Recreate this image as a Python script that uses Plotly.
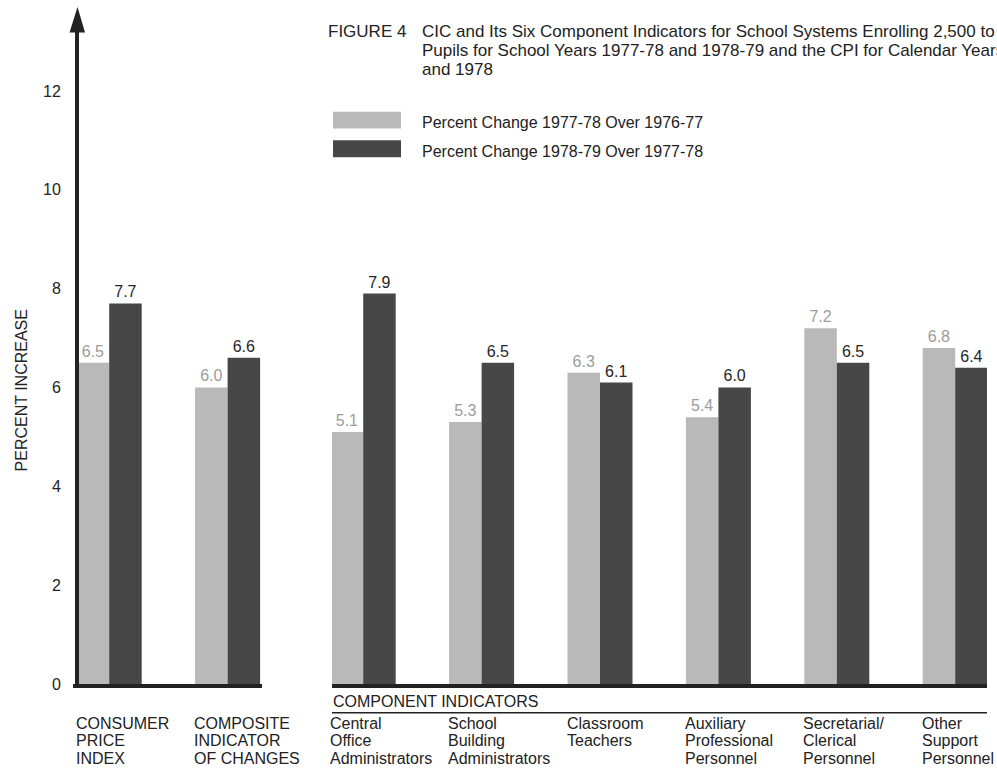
import plotly.graph_objects as go

# ---- data -------------------------------------------------------------
summary_cats = ["CPI", "CIC"]
summary_labels = [["CONSUMER", "PRICE", "INDEX"],
                  ["COMPOSITE", "INDICATOR", "OF CHANGES"]]
summary_7778 = [6.5, 6.0]
summary_7879 = [7.7, 6.6]

component_cats = ["Central Office Administrators", "School Building Administrators",
                  "Classroom Teachers", "Auxiliary Professional Personnel",
                  "Secretarial/Clerical Personnel", "Other Support Personnel"]
component_labels = [["Central", "Office", "Administrators"],
                    ["School", "Building", "Administrators"],
                    ["Classroom", "Teachers"],
                    ["Auxiliary", "Professional", "Personnel"],
                    ["Secretarial/", "Clerical", "Personnel"],
                    ["Other", "Support", "Personnel"]]
component_7778 = [5.1, 5.3, 6.3, 5.4, 7.2, 6.8]
component_7879 = [7.9, 6.5, 6.1, 6.0, 6.5, 6.4]

series_names = ["Percent Change 1977-78 Over 1976-77",
                "Percent Change 1978-79 Over 1977-78"]
y_ticks = [0, 2, 4, 6, 8, 10, 12]

title_tag = "FIGURE 4"
title_lines = ["CIC and Its Six Component Indicators for School Systems Enrolling 2,500 to 9,999",
               "Pupils for School Years 1977-78 and 1978-79 and the CPI for Calendar Years 1977",
               "and 1978"]
group_heading = "COMPONENT INDICATORS"
y_title = "PERCENT INCREASE"

# ---- page geometry (pixels) ------------------------------------------
W, H = 997, 781
BASE_Y = 692        # baseline of the bars
AXIS_TOP = 32       # where the arrowhead starts
PX_PER_UNIT = 50    # vertical pixels per percentage point
CAT_PX = 118.4      # horizontal pixels per category
BAR_GROUP_PX = 65   # width of a pair of bars
AXIS_X = 77         # x of the vertical axis

LIGHT = "#b9b9b9"
DARK = "#474747"
INK = "#222222"
FONT = "Liberation Sans, Arial, Helvetica, sans-serif"


def px(x):
    return x / W


def py(y):
    return 1 - y / H


bargap = 1 - BAR_GROUP_PX / CAT_PX


def cat_range(dom_left, dom_right, first_center):
    r0 = -(first_center - dom_left) / CAT_PX
    return [r0, r0 + (dom_right - dom_left) / CAT_PX]


x1_dom = (73, 262)
x2_dom = (332, 987)
x1_range = cat_range(*x1_dom, 109.2)
x2_range = cat_range(*x2_dom, 363.2)

fig = go.Figure()


def add_pair(cats, light_vals, dark_vals, xaxis):
    for vals, name, col, tcol in ((light_vals, series_names[0], LIGHT, "#9c9c9c"),
                                  (dark_vals, series_names[1], DARK, "#262626")):
        fig.add_trace(go.Bar(
            x=cats, y=vals, name=name, xaxis=xaxis, yaxis="y",
            marker=dict(color=col, line=dict(width=0)),
            text=[f"{v:.1f}" for v in vals], textposition="outside",
            textfont=dict(family=FONT, size=16, color=tcol),
            constraintext="none", cliponaxis=False, showlegend=False,
        ))


add_pair(summary_cats, summary_7778, summary_7879, "x")
add_pair(component_cats, component_7778, component_7879, "x2")

axis_common = dict(type="category", showticklabels=False, ticks="", showgrid=False,
                   zeroline=False, showline=True, linewidth=4, linecolor=INK,
                   anchor="y", fixedrange=True)

fig.update_layout(
    width=W, height=H, autosize=False,
    margin=dict(l=0, r=0, t=0, b=0, pad=0),
    paper_bgcolor="white", plot_bgcolor="rgba(0,0,0,0)",
    barmode="group", bargap=bargap, bargroupgap=0,
    font=dict(family=FONT, size=16, color=INK),
    xaxis=dict(domain=[px(x1_dom[0]), px(x1_dom[1])], range=x1_range, **axis_common),
    xaxis2=dict(domain=[px(x2_dom[0]), px(x2_dom[1])], range=x2_range, **axis_common),
    yaxis=dict(domain=[py(BASE_Y), py(AXIS_TOP)],
               range=[0, (BASE_Y - AXIS_TOP) / PX_PER_UNIT],
               anchor="free", position=px(AXIS_X),
               showline=True, linewidth=4, linecolor=INK,
               showgrid=False, zeroline=False, ticks="",
               tickvals=y_ticks, ticktext=[str(t) for t in y_ticks],
               tickfont=dict(family=FONT, size=16, color=INK),
               ticklabelstandoff=11, fixedrange=True),
)

# arrowhead on top of the vertical axis
fig.add_shape(type="path", xref="paper", yref="paper",
              path=f"M {px(AXIS_X - 7.5)} {py(AXIS_TOP + 1)} L {px(AXIS_X + 0.5)} {py(7)} "
                   f"L {px(AXIS_X + 8)} {py(AXIS_TOP + 1)} Z",
              fillcolor=INK, line=dict(width=0))

# vertical axis title
fig.add_annotation(text=y_title, xref="paper", yref="paper", x=px(21), y=py(395),
                   xanchor="center", yanchor="middle",
                   textangle=-90, showarrow=False, font=dict(size=16, color=INK))

# figure caption (runs off the right edge of the page)
fig.add_annotation(text=title_tag, xref="paper", yref="paper", x=px(326), y=py(32),
                   xanchor="left", yanchor="middle", showarrow=False,
                   font=dict(size=17, color=INK))
for i, line in enumerate(title_lines):
    fig.add_annotation(text=line, xref="paper", yref="paper", x=px(420), y=py(32 + 19 * i),
                       xanchor="left", yanchor="middle", showarrow=False,
                       font=dict(size=17, color=INK))

# key
for i, (name, col) in enumerate(zip(series_names, (LIGHT, DARK))):
    top = 113 + 29 * i
    fig.add_shape(type="rect", xref="paper", yref="paper",
                  x0=px(333), x1=px(401), y0=py(top), y1=py(top + 17),
                  fillcolor=col, line=dict(width=0))
    fig.add_annotation(text=name, xref="paper", yref="paper", x=px(420), y=py(top + 11),
                       xanchor="left", yanchor="middle", showarrow=False,
                       font=dict(size=16, color=INK))

# heading + rule over the component groups
fig.add_annotation(text=group_heading, xref="x2 domain", yref="paper", x=0, y=py(710),
                   xanchor="left", yanchor="middle", showarrow=False, xshift=-1,
                   font=dict(size=16, color=INK))
fig.add_shape(type="line", xref="x2 domain", yref="paper", x0=0, x1=1,
              y0=py(721), y1=py(721), line=dict(color=INK, width=1.5))

# category labels, left-aligned under each pair of bars
for xref, cats, labels in (("x", summary_cats, summary_labels),
                           ("x2", component_cats, component_labels)):
    for cat, lines in zip(cats, labels):
        for k, line in enumerate(lines):
            fig.add_annotation(text=line, xref=xref, yref="paper", x=cat,
                               y=py(732 + 17.5 * k), xanchor="left", yanchor="middle",
                               xshift=-BAR_GROUP_PX / 2 - 3, showarrow=False,
                               font=dict(size=16, color=INK))

fig.write_html("out.html")
